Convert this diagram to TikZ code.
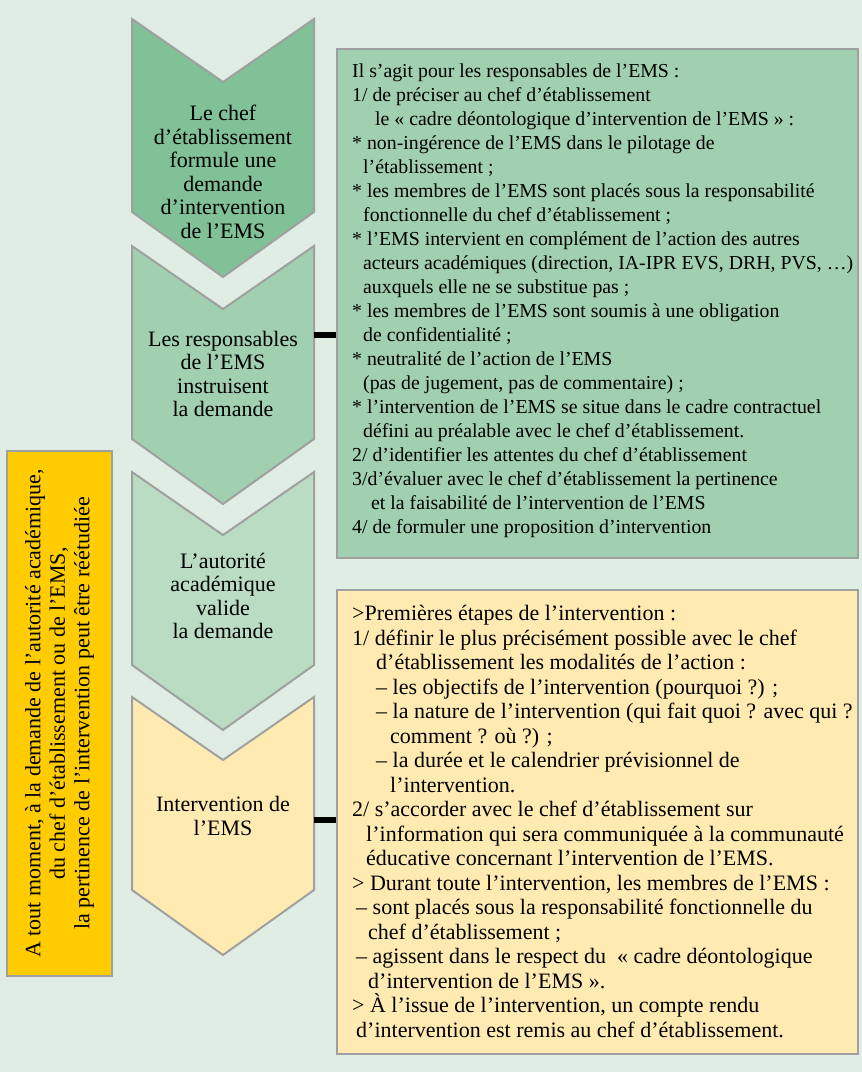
\documentclass[tikz,border=0pt]{standalone}
\usepackage{fontspec}
\setmainfont{Liberation Serif}
\definecolor{bgmint}{HTML}{DFEDE2}
\definecolor{chevA}{HTML}{80C197}
\definecolor{chevB}{HTML}{A0D0AF}
\definecolor{chevC}{HTML}{B9DCC3}
\definecolor{paleyellow}{HTML}{FFEBB1}
\definecolor{gold}{HTML}{FFCC00}
\definecolor{edgegray}{HTML}{A0A0A0}

\begin{document}
\begin{tikzpicture}[
        x=1pt, y=-1pt,
        chevron/.style={draw=edgegray, line width=2pt, line join=miter},
        steptext/.style={align=center, inner sep=0pt, font=\fontsize{22}{23.5}\selectfont},
        infobox/.style={draw=edgegray, line width=2pt, anchor=north west},
        boxtext/.style={align=left, anchor=north west, inner sep=0pt, font=\fontsize{19.8}{24}\selectfont},
        bigboxtext/.style={boxtext, font=\fontsize{22}{24.5}\selectfont},
        bar/.style={line width=6.5pt, black},
        notebox/.style={draw=edgegray, line width=2pt, fill=gold, align=center, font=\fontsize{22}{24.5}\selectfont}
    ]
        \path[use as bounding box, fill=bgmint] (0,0) rectangle (862,1072);

        % the four steps
        \foreach \y/\col in {19/chevA, 246/chevB, 472/chevC, 697/paleyellow}
            \draw[chevron, fill=\col] (132,\y) -- (223,\y+63) -- (314,\y) -- (314,\y+193)
                -- (223,\y+258) -- (132,\y+193) -- cycle;

        \node[steptext] (s1) at (223,172) {Le chef\\d’établissement\\formule une\\demande\\d’intervention\\de l’EMS};
        \node[steptext] (s2) at (223,374) {Les responsables\\de l’EMS\\instruisent\\la demande};
        \node[steptext] (s3) at (223,596) {L’autorité\\académique\\valide\\la demande};
        \node[steptext] (s4) at (223,816) {Intervention de\\l’EMS};

        \coordinate (s2e) at (314,335);
        \coordinate (s4e) at (314,820);

        % boxes on the right
        \node[infobox, fill=chevB, minimum width=521pt, minimum height=509pt] (green) at (336,48) {};
        \node[boxtext] (greentext) at ([xshift=16pt, yshift=-16pt]green.north west) {Il s’agit pour les responsables de l’EMS :\\
1/ de préciser au chef d’établissement\\
\hspace*{23pt}le « cadre déontologique d’intervention de l’EMS » :\\
* non-ingérence de l’EMS dans le pilotage de\\
\hspace*{11pt}l’établissement ;\\
* les membres de l’EMS sont placés sous la responsabilité\\
\hspace*{11pt}fonctionnelle du chef d’établissement ;\\
* l’EMS intervient en complément de l’action des autres\\
\hspace*{11pt}acteurs académiques (direction, IA-IPR EVS, DRH, PVS, …)\\
\hspace*{11pt}auxquels elle ne se substitue pas ;\\
* les membres de l’EMS sont soumis à une obligation\\
\hspace*{11pt}de confidentialité ;\\
* neutralité de l’action de l’EMS\\
\hspace*{11pt}(pas de jugement, pas de commentaire) ;\\
* l’intervention de l’EMS se situe dans le cadre contractuel\\
\hspace*{11pt}défini au préalable avec le chef d’établissement.\\
2/ d’identifier les attentes du chef d’établissement\\
3/d’évaluer avec le chef d’établissement la pertinence\\
\hspace*{19pt}et la faisabilité de l’intervention de l’EMS\\
4/ de formuler une proposition d’intervention};

        \node[infobox, fill=paleyellow, minimum width=521pt, minimum height=464pt] (yellow) at (336,589) {};
        \node[bigboxtext] (yellowtext) at ([xshift=16pt, yshift=-16pt]yellow.north west) {>Premières étapes de l’intervention :\\
1/ définir le plus précisément possible avec le chef\\
\hspace*{24pt}d’établissement les modalités de l’action :\\
\hspace*{24pt}– les objectifs de l’intervention (pourquoi ?) ;\\
\hspace*{24pt}– la nature de l’intervention (qui fait quoi ? avec qui ?\\
\hspace*{38pt}comment ? où ?) ;\\
\hspace*{24pt}– la durée et le calendrier prévisionnel de\\
\hspace*{38pt}l’intervention.\\
2/ s’accorder avec le chef d’établissement sur\\
\hspace*{14pt}l’information qui sera communiquée à la communauté\\
\hspace*{14pt}éducative concernant l’intervention de l’EMS.\\
> Durant toute l’intervention, les membres de l’EMS :\\
\hspace*{4pt}– sont placés sous la responsabilité fonctionnelle du\\
\hspace*{16pt}chef d’établissement ;\\
\hspace*{4pt}– agissent dans le respect du \ « cadre déontologique\\
\hspace*{16pt}d’intervention de l’EMS ».\\
> À l’issue de l’intervention, un compte rendu\\
\hspace*{4pt}d’intervention est remis au chef d’établissement.};

        \draw[bar] (s2e) -- (green.west |- s2e);
        \draw[bar] (s4e) -- (yellow.west |- s4e);

        % note on the left
        \node[notebox, rotate=90, minimum width=525pt, minimum height=105pt] (note) at (59.5,713.5)
            {A tout moment, à la demande de l’autorité académique,\\du chef d’établissement ou de l’EMS,\\la pertinence de l’intervention peut être réétudiée};
    \end{tikzpicture}
\end{document}
